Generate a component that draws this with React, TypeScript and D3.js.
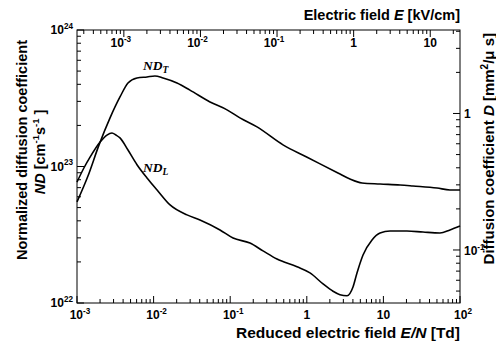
import React from 'react';
import * as d3 from 'd3';

const W = 496;
const H = 342;

// Gas number density (cm^-3) linking E/N [Td] to E [kV/cm] and ND to D
const N_GAS = 2.446e19;
const TD_PER_KVCM = (1e3 / N_GAS) * 1e17;
const D_PER_ND = 1e-4 / N_GAS; // cm^2/s -> mm^2/us

// Transverse diffusion ND_T vs reduced field E/N [Td]
const ndtEN = [0.001, 0.00139, 0.00194, 0.0027, 0.00364, 0.00463, 0.00607, 0.0082, 0.0104, 0.0133, 0.0202, 0.0298, 0.0545, 0.0908, 0.134, 0.224, 0.489, 1.01, 2.55, 3.66, 5.26, 9.04, 16.5, 24.3, 50.1, 74.0, 100];
const ndtVal = [5.5e22, 8.51e22, 1.44e23, 2.27e23, 3.23e23, 4.09e23, 4.45e23, 4.53e23, 4.6e23, 4.45e23, 4.09e23, 3.63e23, 2.97e23, 2.6e23, 2.27e23, 1.95e23, 1.44e23, 1.17e23, 8.96e22, 8.09e22, 7.57e22, 7.44e22, 7.32e22, 7.2e22, 6.96e22, 6.73e22, 6.73e22];

// Longitudinal diffusion ND_L vs reduced field E/N [Td]
const ndlEN = [0.001, 0.00123, 0.00148, 0.002, 0.00246, 0.00286, 0.00323, 0.00364, 0.00463, 0.00607, 0.0082, 0.0111, 0.0164, 0.0273, 0.0403, 0.0736, 0.109, 0.181, 0.268, 0.408, 0.745, 1.1, 1.63, 2.2, 2.71, 3.35, 4.01, 4.52, 5.42, 7.1, 9.04, 12.2, 20.3, 32.9, 54.8, 74.0, 100];
const ndlVal = [7.69e22, 9.75e22, 1.17e23, 1.51e23, 1.7e23, 1.76e23, 1.7e23, 1.62e23, 1.32e23, 1.03e23, 8.24e22, 6.73e22, 5.23e22, 4.42e22, 4.06e22, 3.43e22, 2.99e22, 2.75e22, 2.41e22, 2.1e22, 1.84e22, 1.66e22, 1.38e22, 1.22e22, 1.15e22, 1.13e22, 1.31e22, 1.66e22, 2.25e22, 2.9e22, 3.26e22, 3.37e22, 3.37e22, 3.31e22, 3.26e22, 3.43e22, 3.66e22];

// Tick labels: [mantissa, exponent]
const bottomTickValues = [1e-3, 1e-2, 1e-1, 1, 10, 100];
const bottomTickLabels = [['10', '-3'], ['10', '-2'], ['10', '-1'], ['1', ''], ['10', ''], ['10', '2']];
const topTickValues = [1e-3, 1e-2, 1e-1, 1, 10];
const topTickLabels = [['10', '-3'], ['10', '-2'], ['10', '-1'], ['1', ''], ['10', '']];
const leftTickValues = [1e22, 1e23, 1e24];
const leftTickLabels = [['10', '22'], ['10', '23'], ['10', '24']];
const rightTickValues = [0.1, 1];
const rightTickLabels = [['10', '-1'], ['1', '']];

const PL = 77;
const PR = 460;
const PT = 30;
const PB = 303;

const SANS = 'Liberation Sans, Arial, Helvetica, sans-serif';
const SERIF = 'Liberation Serif, Times New Roman, serif';

function logTicks(domain: [number, number]) {
  const [a, b] = domain;
  const out: { v: number; major: boolean }[] = [];
  const lo = Math.floor(Math.log10(a));
  const hi = Math.ceil(Math.log10(b));
  for (let e = lo; e <= hi; e++) {
    for (let m = 1; m <= 9; m++) {
      const v = m * Math.pow(10, e);
      if (v >= a * 0.999 && v <= b * 1.001) out.push({ v, major: m === 1 });
    }
  }
  return out;
}

function Pow({ m, e, x, y, anchor, size = 12 }: { m: string; e: string; x: number; y: number; anchor: string; size?: number }) {
  return (
    <text x={x} y={y} textAnchor={anchor} fontFamily={SANS} fontWeight="bold" fontSize={size} fill="#000">
      {m}
      {e && (
        <tspan fontSize={size * 0.68} dy={-size * 0.45}>
          {e}
        </tspan>
      )}
    </text>
  );
}

export default function App() {
  const x = d3.scaleLog().domain([1e-3, 1e2]).range([PL, PR]);
  const y = d3.scaleLog().domain([1e22, 1e24]).range([PB, PT]);
  const xTop = d3.scaleLog().domain([1e-3 / TD_PER_KVCM, 1e2 / TD_PER_KVCM]).range([PL, PR]);
  const yRight = d3.scaleLog().domain([1e22 * D_PER_ND, 1e24 * D_PER_ND]).range([PB, PT]);

  const line = d3
    .line<[number, number]>()
    .x((d) => x(d[0]))
    .y((d) => y(d[1]))
    .curve(d3.curveMonotoneX);

  const ndt = ndtEN.map((e, i) => [e, ndtVal[i]] as [number, number]);
  const ndl = ndlEN.map((e, i) => [e, ndlVal[i]] as [number, number]);

  const MAJ = 7;
  const MIN = 4;

  return (
    <svg width={W} height={H} style={{ position: 'absolute', left: 0, top: 0, background: '#fff' }}>
      <rect x={0} y={0} width={W} height={H} fill="#fff" />
      <g stroke="#000" strokeWidth={1} fill="none">
        <rect x={PL} y={PT} width={PR - PL} height={PB - PT} />
        {logTicks(x.domain() as [number, number]).map((t, i) => (
          <line key={'b' + i} x1={x(t.v)} x2={x(t.v)} y1={PB} y2={PB - (t.major ? MAJ : MIN)} />
        ))}
        {logTicks(xTop.domain() as [number, number]).map((t, i) => (
          <line key={'t' + i} x1={xTop(t.v)} x2={xTop(t.v)} y1={PT} y2={PT + (t.major ? MAJ : MIN)} />
        ))}
        {logTicks(y.domain() as [number, number]).map((t, i) => (
          <line key={'l' + i} x1={PL} x2={PL + (t.major ? MAJ : MIN)} y1={y(t.v)} y2={y(t.v)} />
        ))}
        {logTicks(yRight.domain() as [number, number]).map((t, i) => (
          <line key={'r' + i} x1={PR} x2={PR - (t.major ? MAJ : MIN)} y1={yRight(t.v)} y2={yRight(t.v)} />
        ))}
      </g>

      <g fill="none" stroke="#000" strokeWidth={1.6} strokeLinejoin="round">
        <path d={line(ndt) || ''} />
        <path d={line(ndl) || ''} />
      </g>

      {bottomTickValues.map((v, i) => (
        <Pow key={'bl' + i} m={bottomTickLabels[i][0]} e={bottomTickLabels[i][1]} x={x(v) + (bottomTickLabels[i][1] ? 3 : 0)} y={319} anchor="middle" />
      ))}
      {topTickValues.map((v, i) => (
        <Pow key={'tl' + i} m={topTickLabels[i][0]} e={topTickLabels[i][1]} x={xTop(v) + (topTickLabels[i][1] ? -3 : 0)} y={47} anchor="middle" />
      ))}
      {leftTickValues.map((v, i) => (
        <Pow key={'ll' + i} m={leftTickLabels[i][0]} e={leftTickLabels[i][1]} x={73} y={y(v) + 4} anchor="end" />
      ))}
      {rightTickValues.map((v, i) => (
        <Pow key={'rl' + i} m={rightTickLabels[i][0]} e={rightTickLabels[i][1]} x={464} y={yRight(v) + 5} anchor="start" />
      ))}

      <text x={PR} y={20} textAnchor="end" fontFamily={SANS} fontWeight="bold" fontSize={14.5}>
        Electric field <tspan fontStyle="italic">E</tspan> [kV/cm]
      </text>
      <text x={PR} y={338} textAnchor="end" fontFamily={SANS} fontWeight="bold" fontSize={15.5}>
        Reduced electric field <tspan fontStyle="italic">E/N</tspan> [Td]
      </text>

      <text transform="translate(27,150) rotate(-90)" textAnchor="middle" fontFamily={SANS} fontWeight="bold" fontSize={14.5}>
        Normalized diffusion coefficient
      </text>
      <text transform="translate(45,152) rotate(-90)" textAnchor="middle" fontFamily={SANS} fontWeight="bold" fontSize={14.5}>
        <tspan fontStyle="italic">ND</tspan> [cm
        <tspan fontSize={9.5} dy={-6}>-1</tspan>
        <tspan dy={6}>s</tspan>
        <tspan fontSize={9.5} dy={-6}>-1</tspan>
        <tspan dy={6}> ]</tspan>
      </text>
      <text transform="translate(494,33) rotate(-90)" textAnchor="end" fontFamily={SANS} fontWeight="bold" fontSize={15}>
        Diffusion coefficient <tspan fontStyle="italic">D</tspan> [mm
        <tspan fontSize={10} dy={-6}>2</tspan>
        <tspan dy={6}>/μ s]</tspan>
      </text>

      <text x={143} y={70} fontFamily={SERIF} fontStyle="italic" fontWeight="bold" fontSize={13.5}>
        ND<tspan fontSize={9.5} dy={3}>T</tspan>
      </text>
      <text x={143} y={172} fontFamily={SERIF} fontStyle="italic" fontWeight="bold" fontSize={13.5}>
        ND<tspan fontSize={9.5} dy={3}>L</tspan>
      </text>
    </svg>
  );
}
